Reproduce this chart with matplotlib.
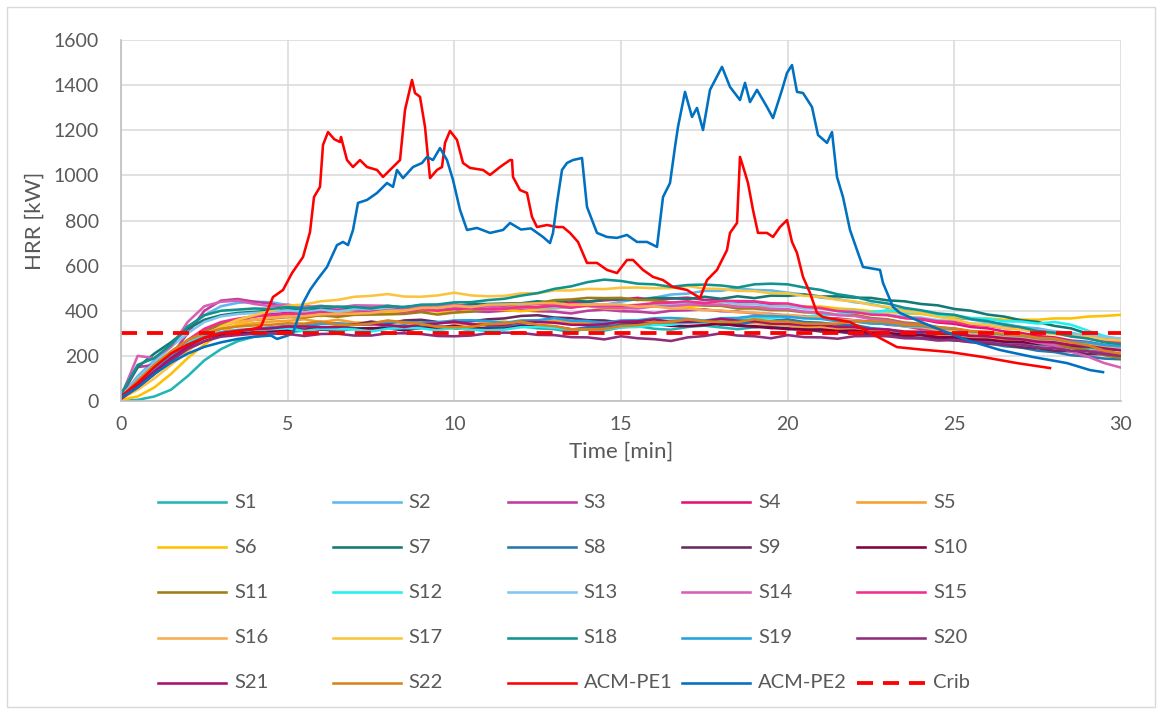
import numpy as np
import matplotlib
matplotlib.use("Agg")
import matplotlib.pyplot as plt
from matplotlib.lines import Line2D
from matplotlib.patches import Rectangle

plt.rcParams['font.family'] = ['Lato', 'DejaVu Sans']

# time grid for S-series (min)
T = np.arange(0, 30.5, 0.5)

S1 = [0, 5, 20, 50, 110, 180, 230, 265, 285, 295,
      305, 312, 318, 308, 322, 312, 328, 315, 324, 332,
      322, 318, 310, 325, 332, 322, 318, 306, 322, 312,
      326, 332, 320, 316, 328, 334, 326, 318, 327, 332,
      336, 326, 322, 316, 310, 304, 301, 293, 291, 283,
      280, 274, 269, 260, 258, 249, 246, 238, 236, 229,
      225]
S2 = [20, 110, 180, 250, 320, 380, 420, 435, 440, 438,
      425, 420, 412, 410, 420, 410, 408, 418, 420, 415,
      428, 418, 415, 425, 416, 412, 422, 425, 432, 426,
      440, 452, 458, 472, 476, 488, 488, 500, 492, 490,
      480, 472, 458, 452, 438, 430, 413, 404, 388, 382,
      368, 362, 348, 342, 328, 322, 308, 302, 288, 282,
      270]
S3 = [20, 150, 160, 200, 300, 400, 445, 452, 440, 432,
      412, 422, 408, 407, 398, 396, 406, 398, 400, 402,
      407, 398, 395, 400, 402, 398, 396, 388, 400, 405,
      398, 396, 390, 400, 402, 406, 398, 396, 388, 386,
      378, 376, 368, 366, 358, 352, 338, 332, 318, 312,
      298, 292, 283, 277, 263, 257, 243, 237, 223, 217,
      200]
S4 = [15, 80, 140, 200, 260, 310, 340, 360, 375, 385,
      390, 397, 400, 395, 407, 410, 400, 410, 412, 402,
      412, 415, 422, 416, 427, 430, 426, 437, 440, 446,
      450, 457, 446, 454, 458, 448, 446, 438, 436, 428,
      426, 416, 412, 400, 397, 386, 382, 368, 362, 348,
      342, 328, 322, 308, 302, 288, 282, 268, 262, 248,
      240]
S5 = [10, 60, 120, 180, 240, 290, 320, 335, 345, 352,
      355, 362, 350, 360, 348, 346, 354, 346, 357, 348,
      346, 338, 350, 352, 343, 352, 355, 348, 346, 338,
      340, 345, 352, 355, 362, 356, 353, 346, 346, 338,
      336, 328, 326, 318, 316, 308, 306, 298, 296, 288,
      286, 278, 276, 268, 266, 258, 256, 248, 246, 238,
      235]
S6 = [5, 20, 60, 120, 190, 250, 300, 340, 360, 370,
      380, 387, 376, 392, 395, 386, 394, 400, 407, 396,
      392, 402, 410, 403, 398, 404, 410, 417, 420, 410,
      408, 417, 420, 427, 416, 424, 428, 418, 415, 420,
      425, 418, 419, 410, 406, 398, 396, 388, 386, 376,
      373, 366, 366, 360, 361, 360, 366, 366, 374, 377,
      382]
S7 = [30, 150, 210, 260, 320, 360, 380, 390, 395, 400,
      405, 412, 406, 417, 410, 420, 418, 415, 424, 423,
      420, 430, 430, 432, 433, 442, 436, 447, 440, 450,
      452, 448, 457, 456, 452, 462, 453, 464, 456, 467,
      466, 472, 463, 464, 458, 457, 446, 442, 430, 424,
      408, 400, 383, 374, 358, 350, 333, 322, 298, 282,
      260]
S8 = [20, 90, 150, 200, 250, 285, 300, 310, 315, 320,
      327, 316, 324, 330, 323, 320, 330, 335, 328, 325,
      324, 316, 327, 330, 337, 326, 324, 316, 327, 330,
      337, 340, 347, 338, 350, 352, 343, 340, 352, 355,
      362, 350, 347, 338, 337, 323, 317, 303, 297, 283,
      277, 263, 257, 243, 237, 223, 217, 203, 197, 188,
      185]
S9 = [10, 70, 130, 190, 240, 280, 300, 310, 320, 325,
      332, 333, 342, 343, 338, 352, 343, 357, 360, 350,
      350, 353, 362, 366, 377, 380, 370, 367, 358, 357,
      348, 347, 338, 350, 350, 347, 338, 337, 328, 327,
      318, 317, 308, 307, 298, 297, 288, 287, 278, 277,
      268, 264, 253, 250, 238, 234, 223, 220, 208, 207,
      198]
S10 = [10, 60, 120, 180, 230, 265, 290, 300, 305, 310,
       314, 316, 317, 320, 320, 323, 322, 313, 324, 326,
       334, 323, 320, 320, 332, 333, 330, 318, 317, 320,
       330, 333, 342, 333, 332, 336, 344, 333, 332, 323,
       322, 316, 317, 310, 312, 303, 302, 293, 292, 283,
       282, 273, 272, 263, 262, 253, 252, 243, 242, 233,
       228]
S11 = [15, 70, 140, 200, 260, 310, 340, 355, 360, 365,
       372, 370, 380, 373, 382, 383, 384, 386, 394, 383,
       392, 396, 407, 413, 427, 433, 447, 450, 457, 456,
       457, 448, 447, 436, 432, 423, 422, 410, 410, 403,
       402, 393, 392, 383, 382, 368, 362, 348, 342, 328,
       320, 303, 297, 283, 277, 260, 252, 236, 224, 203,
       190]
S12 = [15, 80, 150, 210, 260, 290, 305, 310, 315, 318,
       322, 310, 320, 320, 317, 308, 320, 323, 322, 313,
       324, 316, 314, 316, 327, 328, 324, 316, 317, 318,
       327, 328, 337, 338, 347, 348, 357, 358, 367, 368,
       374, 373, 382, 383, 392, 393, 402, 393, 390, 380,
       380, 368, 364, 353, 352, 343, 350, 338, 312, 288,
       272]
S13 = [20, 100, 170, 240, 300, 350, 375, 385, 390, 395,
       402, 393, 404, 396, 407, 408, 407, 398, 410, 410,
       417, 408, 407, 410, 420, 413, 412, 418, 427, 426,
       424, 416, 427, 428, 437, 438, 440, 430, 430, 420,
       420, 410, 410, 400, 400, 388, 384, 373, 370, 358,
       354, 343, 340, 328, 324, 313, 310, 298, 294, 283,
       278]
S14 = [20, 200, 190, 240, 350, 420, 440, 445, 430, 420,
       427, 416, 422, 413, 424, 423, 422, 413, 420, 420,
       427, 418, 420, 413, 414, 416, 424, 423, 422, 413,
       412, 410, 420, 420, 427, 428, 427, 418, 417, 408,
       407, 396, 392, 380, 377, 363, 357, 343, 337, 323,
       317, 303, 297, 283, 274, 258, 247, 218, 197, 168,
       148]
S15 = [15, 90, 150, 210, 270, 320, 350, 365, 375, 380,
       387, 386, 394, 383, 392, 393, 402, 396, 407, 400,
       410, 410, 407, 408, 417, 416, 422, 413, 424, 423,
       422, 426, 434, 436, 442, 433, 444, 443, 442, 433,
       432, 418, 412, 398, 394, 383, 380, 368, 364, 353,
       350, 338, 334, 323, 320, 308, 302, 288, 282, 268,
       258]
S16 = [10, 60, 120, 180, 240, 290, 330, 350, 360, 368,
       374, 376, 384, 386, 387, 390, 400, 400, 412, 413,
       422, 416, 427, 428, 430, 433, 434, 426, 427, 428,
       428, 418, 420, 410, 410, 402, 402, 393, 392, 383,
       382, 373, 372, 360, 357, 346, 342, 330, 327, 316,
       312, 300, 297, 286, 282, 270, 267, 256, 252, 240,
       235]
S17 = [10, 50, 100, 160, 220, 280, 330, 360, 380, 400,
       422, 428, 442, 448, 462, 466, 474, 463, 462, 468,
       480, 468, 464, 466, 477, 478, 490, 490, 497, 496,
       502, 503, 500, 500, 510, 498, 497, 488, 487, 478,
       477, 466, 462, 448, 442, 426, 417, 398, 390, 373,
       362, 343, 337, 323, 317, 303, 297, 288, 284, 273,
       268]
S18 = [30, 160, 190, 250, 330, 380, 400, 405, 410, 408,
       417, 410, 420, 418, 417, 410, 422, 416, 427, 428,
       437, 438, 447, 453, 467, 478, 497, 508, 527, 538,
       532, 520, 517, 506, 514, 516, 512, 503, 517, 520,
       517, 503, 492, 473, 462, 443, 432, 413, 402, 388,
       382, 363, 354, 338, 327, 310, 302, 286, 277, 260,
       250]
S19 = [15, 80, 140, 200, 250, 285, 305, 315, 320, 325,
       332, 333, 342, 343, 340, 340, 350, 350, 347, 348,
       357, 358, 354, 346, 357, 358, 367, 356, 354, 346,
       357, 358, 367, 368, 364, 356, 367, 368, 377, 376,
       374, 366, 364, 353, 352, 343, 342, 333, 332, 323,
       320, 308, 304, 293, 290, 278, 274, 263, 260, 248,
       242]
S20 = [10, 60, 120, 180, 230, 265, 285, 292, 298, 300,
       297, 288, 297, 298, 290, 290, 300, 300, 297, 288,
       287, 290, 300, 303, 302, 293, 292, 283, 282, 273,
       287, 278, 274, 266, 282, 288, 300, 290, 287, 278,
       292, 283, 282, 276, 287, 288, 287, 278, 277, 268,
       270, 260, 260, 250, 250, 238, 234, 223, 220, 208,
       200]
S21 = [10, 70, 130, 190, 240, 280, 300, 310, 318, 322,
       330, 330, 327, 328, 340, 340, 337, 328, 340, 343,
       352, 340, 337, 338, 350, 350, 347, 338, 337, 340,
       352, 353, 362, 350, 350, 353, 364, 356, 354, 343,
       342, 336, 337, 328, 327, 318, 317, 308, 307, 298,
       297, 288, 287, 278, 274, 263, 260, 248, 244, 233,
       225]
S22 = [15, 90, 160, 220, 270, 300, 320, 330, 335, 338,
       344, 343, 352, 338, 337, 343, 357, 348, 342, 328,
       327, 328, 340, 343, 352, 338, 332, 318, 317, 320,
       332, 336, 347, 350, 362, 353, 350, 350, 362, 353,
       352, 343, 342, 343, 352, 353, 350, 338, 337, 326,
       322, 310, 307, 296, 292, 280, 277, 260, 247, 223,
       210]

ACM1_t = [0, 0.5, 1, 1.5, 2, 2.5, 3, 3.5, 4, 4.2, 4.56, 4.86, 5.13, 5.46, 5.67,
          5.79, 5.97, 6.06, 6.21, 6.4, 6.57, 6.6, 6.78, 6.96, 7.17, 7.38, 7.68,
          7.86, 8.16, 8.37, 8.52, 8.73, 8.82, 8.97, 9.12, 9.27, 9.48, 9.63, 9.72,
          9.87, 10.08, 10.26, 10.47, 10.86, 11.07, 11.37, 11.67, 11.73, 11.76,
          11.97, 12.18, 12.33, 12.48, 12.78, 13.08, 13.26, 13.47, 13.71, 13.98,
          14.28, 14.58, 14.88, 15.18, 15.36, 15.66, 15.96, 16.26, 16.56, 16.98,
          17.37, 17.58, 17.88, 18.18, 18.27, 18.48, 18.57, 18.72, 18.81, 18.96,
          19.11, 19.38, 19.56, 19.77, 19.98, 20.13, 20.28, 20.46, 20.67, 20.88,
          21.06, 21.5, 21.87, 22.5, 23.28, 24.0, 24.87, 25.86, 26.88, 27.87]
ACM1 = [20, 80, 150, 210, 250, 280, 300, 310, 320, 330, 461, 492, 567, 638, 749,
        904, 949, 1135, 1192, 1160, 1148, 1170, 1068, 1037, 1068, 1037, 1024,
        993, 1037, 1068, 1290, 1423, 1365, 1348, 1215, 988, 1024, 1037, 1144,
        1197, 1157, 1055, 1033, 1024, 1002, 1037, 1068, 1068, 993,
        935, 922, 816, 771, 780, 771, 771, 745, 705, 612,
        612, 581, 567, 625, 625, 581, 550, 536, 505, 492,
        457, 536, 581, 669, 745, 789, 1082, 1011, 966, 847,
        745, 745, 727, 771, 802, 705, 656, 550, 479, 390,
        372, 360, 350, 300, 239, 228, 217, 195, 168, 146]

ACM2_t = [0, 0.5, 1, 1.5, 2, 2.5, 3, 3.5, 4, 4.5, 4.68, 5.0, 5.16, 5.46, 5.67,
          5.88, 6.18, 6.48, 6.66, 6.81, 6.96, 7.11, 7.38, 7.68, 7.98, 8.16, 8.28,
          8.46, 8.76, 9.03, 9.18, 9.36, 9.57, 9.78, 9.96, 10.17, 10.38, 10.68,
          11.07, 11.46, 11.67, 12.0, 12.3, 12.66, 12.87, 12.96, 13.08, 13.23,
          13.38, 13.56, 13.83, 13.98, 14.28, 14.58, 14.88, 15.18, 15.48, 15.78,
          16.08, 16.26, 16.47, 16.62, 16.71, 16.92, 17.13, 17.28, 17.46, 17.67,
          18.03, 18.27, 18.57, 18.72, 18.87, 19.08, 19.38, 19.56, 19.83, 19.98,
          20.13, 20.28, 20.46, 20.73, 20.91, 21.18, 21.33, 21.48, 21.66, 21.87,
          22.08, 22.26, 22.77, 22.86, 23.16, 23.37, 24.36, 25.38, 26.37, 27.36,
          28.38, 29.07, 29.46]
ACM2 = [15, 60, 120, 170, 210, 240, 260, 275, 285, 290, 275, 290, 301, 434, 492,
        536, 594, 691, 705, 691, 758, 878, 891, 922, 966, 949, 1024,
        988, 1037, 1055, 1082, 1068, 1121, 1068, 980, 847, 758, 767,
        745, 758, 789, 760, 765, 727, 700, 745, 878, 1024,
        1055, 1068, 1077, 860, 745, 727, 723, 736, 705, 705,
        683, 904, 966, 1126, 1215, 1370, 1259, 1299, 1201, 1379,
        1481, 1392, 1334, 1410, 1325, 1379, 1303, 1254, 1379, 1454,
        1489, 1370, 1365, 1303, 1179, 1144, 1192, 993, 904, 758,
        669, 594, 581, 523, 417, 390, 328, 270, 226, 195,
        168, 137, 128]

CRIB_t = [0, 30]
CRIB = [300, 300]

names = ['S%d' % i for i in range(1, 23)] + ['ACM-PE1', 'ACM-PE2', 'Crib']
series = [S1, S2, S3, S4, S5, S6, S7, S8, S9, S10, S11, S12, S13, S14, S15,
          S16, S17, S18, S19, S20, S21, S22]
colors = ['#22B5B5', '#5FB7EB', '#BE3C9E', '#E2127A', '#F5A02C', '#FFC000',
          '#117A74', '#2478AE', '#6A2A5F', '#800040', '#A07C18', '#22F0F0',
          '#80C6EE', '#D75FB5', '#F0308C', '#F9AC4F', '#FBC43C', '#10938E',
          '#23A3DF', '#902C7C', '#A8116A', '#D7821A', '#FF0000', '#0070C0',
          '#FF0000']

W, H = 1161, 713
fig = plt.figure(figsize=(W / 100, H / 100), dpi=100)
ax = fig.add_axes([121 / W, 1 - 401 / H, 1000 / W, 361 / H])

lw = 1.85
for s, c in zip(series, colors[:22]):
    assert len(s) == len(T)
    ax.plot(T, s, color=c, lw=lw, solid_joinstyle='round')
assert len(ACM1) == len(ACM1_t) and len(ACM2) == len(ACM2_t)
ax.plot(ACM1_t, ACM1, color=colors[22], lw=lw)
ax.plot(ACM2_t, ACM2, color=colors[23], lw=lw)
crib_ls = (0, (4.2, 2.6))
ax.plot(CRIB_t, CRIB, color=colors[24], lw=2.75, linestyle=crib_ls)

ax.set_xlim(0, 30)
ax.set_ylim(0, 1600)
ax.set_xticks(range(0, 31, 5))
ax.set_yticks(range(0, 1601, 200))
ax.grid(True, color='#D9D9D9', lw=1.1)
ax.set_axisbelow(True)
for sp in ['top', 'right']:
    ax.spines[sp].set_visible(False)
for sp in ['left', 'bottom']:
    ax.spines[sp].set_color('#BFBFBF')
    ax.spines[sp].set_linewidth(1.2)
ax.tick_params(length=0, labelsize=14, colors='#595959')
ax.tick_params(axis='y', pad=16)
ax.tick_params(axis='x', pad=11)
ax.set_xlabel('Time [min]', fontsize=16, color='#595959', labelpad=6)
ax.set_ylabel('HRR [kW]', fontsize=16, color='#595959', labelpad=6)

# legend laid out as in the reference (5 columns, row-major)
for i, (nm, c) in enumerate(zip(names, colors)):
    r, col = divmod(i, 5)
    x0 = 158 + col * 174.75
    y0 = 502 + r * 45.2
    if nm == 'Crib':
        ln = Line2D([x0 / W, (x0 + 68) / W], [1 - y0 / H, 1 - y0 / H],
                    transform=fig.transFigure, color=c, lw=2.75,
                    linestyle=(0, (4.2, 2.6)))
    else:
        ln = Line2D([x0 / W, (x0 + 68) / W], [1 - y0 / H, 1 - y0 / H],
                    transform=fig.transFigure, color=c, lw=lw)
    fig.add_artist(ln)
    fig.text((x0 + 76) / W, 1 - y0 / H, nm, fontsize=14.5, color='#595959',
             va='center', ha='left')

fig.add_artist(Rectangle((6.5 / W, 6.5 / H), 1 - 13 / W, 1 - 13 / H,
                         transform=fig.transFigure, fill=False,
                         edgecolor='#D9D9D9', lw=1))

fig.savefig('out.png', dpi=100)
